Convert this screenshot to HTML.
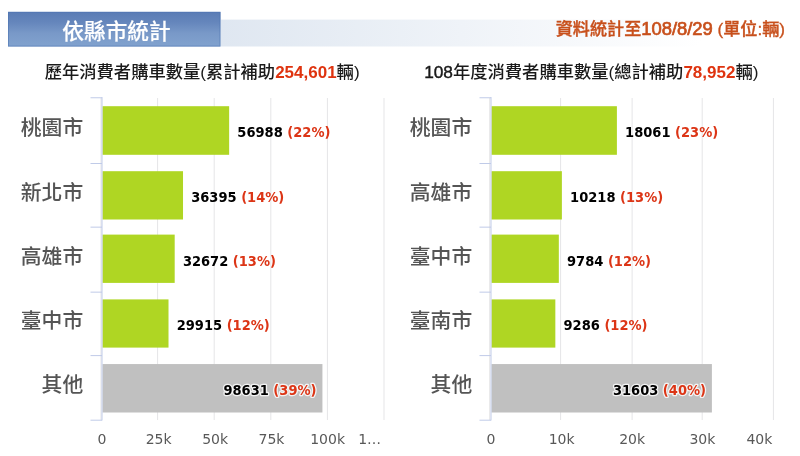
<!DOCTYPE html>
<html lang="zh-Hant">
<head>
<meta charset="utf-8">
<title>依縣市統計</title>
<style>
html,body{margin:0;padding:0;background:#fff;}
body{width:800px;height:456px;overflow:hidden;position:relative;font-family:"Liberation Sans","Noto Sans CJK TC",sans-serif;}
svg{will-change:transform;filter:blur(.35px);position:absolute;left:0;top:0;display:block;}
.dl{font-family:"DejaVu Sans Condensed","DejaVu Sans","Liberation Sans",sans-serif;font-weight:bold;font-size:14.5px;}
.ax{font-family:"DejaVu Sans","Liberation Sans",sans-serif;font-size:14px;fill:#585858;}
.rd{fill:#df330f;font-weight:bold;font-size:17px;}
.dg{stroke:#1a1a1a;stroke-width:.45px;}
.glow{paint-order:stroke;stroke:#fff;stroke-width:2.6px;stroke-linejoin:round;stroke-opacity:.8;}
.ttl{font-family:"Liberation Sans","Noto Sans CJK TC",sans-serif;font-size:17.3px;fill:#1a1a1a;font-weight:500;}
</style>
</head>
<body>
<svg width="800" height="456" viewBox="0 0 800 456">
<defs>
<linearGradient id="gb" x1="0" y1="0" x2="0" y2="1"><stop offset="0" stop-color="#5a7cb5"/><stop offset=".3" stop-color="#6586bc"/><stop offset=".62" stop-color="#7999c8"/><stop offset="1" stop-color="#81a2ce"/></linearGradient>
<linearGradient id="gl" x1="0" y1="0" x2="1" y2="0"><stop offset="0" stop-color="#dfe7f1"/><stop offset="1" stop-color="#ffffff"/></linearGradient>
</defs>
<rect x="221" y="19.6" width="480" height="26.9" fill="url(#gl)"/>
<rect x="8" y="12" width="212.5" height="34.5" fill="url(#gb)"/>
<rect x="8.5" y="12.1" width="211.5" height="34" fill="none" stroke="#4b72b0" stroke-width="1" stroke-opacity=".55"/>
<text x="116.5" y="38.8" text-anchor="middle" font-family='"Liberation Sans","Noto Sans CJK TC",sans-serif' font-size="21.7" font-weight="500" fill="#fff" stroke="#fff" stroke-width=".15">依縣市統計</text>
<text x="785" y="35.4" text-anchor="end" font-family='"Liberation Sans","Noto Sans CJK TC",sans-serif' font-size="17.1" font-weight="500" fill="#c8501c" stroke="#c8501c" stroke-width=".35">資料統計至<tspan font-weight="normal" stroke-width=".7" font-size="18.4">108/8/29</tspan> (單位:輛)</text>
<text x="202.2" y="78" text-anchor="middle" class="ttl">歷年消費者購車數量(累計補助<tspan class="rd">254,601</tspan>輛)</text>
<text x="591.3" y="78" text-anchor="middle" class="ttl"><tspan class="dg">108</tspan>年度消費者購車數量(總計補助<tspan class="rd">78,952</tspan>輛)</text>
<line x1="101.00" y1="98" x2="101.00" y2="420" stroke="#e5e5e7" stroke-width="1"/>
<line x1="157.60" y1="98" x2="157.60" y2="420" stroke="#e5e5e7" stroke-width="1"/>
<line x1="214.20" y1="98" x2="214.20" y2="420" stroke="#e5e5e7" stroke-width="1"/>
<line x1="270.80" y1="98" x2="270.80" y2="420" stroke="#e5e5e7" stroke-width="1"/>
<line x1="327.40" y1="98" x2="327.40" y2="420" stroke="#e5e5e7" stroke-width="1"/>
<line x1="384.00" y1="98" x2="384.00" y2="420" stroke="#e5e5e7" stroke-width="1"/>
<rect x="102.50" y="106.20" width="126.65" height="48.60" fill="#afd623"/>
<rect x="102.50" y="171.20" width="80.52" height="48.30" fill="#afd623"/>
<rect x="102.50" y="234.60" width="72.19" height="48.30" fill="#afd623"/>
<rect x="102.50" y="299.40" width="66.01" height="48.20" fill="#afd623"/>
<rect x="102.50" y="364.05" width="219.93" height="48.45" fill="#c0c0c0"/>
<line x1="102.00" y1="97" x2="102.00" y2="420.5" stroke="#c0cbe8" stroke-width="1"/>
<line x1="90.50" y1="97.75" x2="102.00" y2="97.75" stroke="#c0cbe8" stroke-width="1"/>
<line x1="90.50" y1="163.50" x2="102.00" y2="163.50" stroke="#c0cbe8" stroke-width="1"/>
<line x1="90.50" y1="227.15" x2="102.00" y2="227.15" stroke="#c0cbe8" stroke-width="1"/>
<line x1="90.50" y1="292.15" x2="102.00" y2="292.15" stroke="#c0cbe8" stroke-width="1"/>
<line x1="90.50" y1="355.60" x2="102.00" y2="355.60" stroke="#c0cbe8" stroke-width="1"/>
<line x1="90.50" y1="420.20" x2="102.00" y2="420.20" stroke="#c0cbe8" stroke-width="1"/>
<text x="83.2" y="135.12" text-anchor="end" font-family='"Liberation Sans","Noto Sans CJK TC",sans-serif' font-size="20.8" font-weight="500" fill="#555">桃園市</text>
<text x="83.2" y="199.82" text-anchor="end" font-family='"Liberation Sans","Noto Sans CJK TC",sans-serif' font-size="20.8" font-weight="500" fill="#555">新北市</text>
<text x="83.2" y="264.15" text-anchor="end" font-family='"Liberation Sans","Noto Sans CJK TC",sans-serif' font-size="20.8" font-weight="500" fill="#555">高雄市</text>
<text x="83.2" y="328.38" text-anchor="end" font-family='"Liberation Sans","Noto Sans CJK TC",sans-serif' font-size="20.8" font-weight="500" fill="#555">臺中市</text>
<text x="83.2" y="392.40" text-anchor="end" font-family='"Liberation Sans","Noto Sans CJK TC",sans-serif' font-size="20.8" font-weight="500" fill="#555">其他</text>
<text x="237.35" y="137.30" class="dl"><tspan fill="#000">56988</tspan> <tspan fill="#dc3516">(22%)</tspan></text>
<text x="191.22" y="202.15" class="dl"><tspan fill="#000">36395</tspan> <tspan fill="#dc3516">(14%)</tspan></text>
<text x="182.89" y="265.55" class="dl"><tspan fill="#000">32672</tspan> <tspan fill="#dc3516">(13%)</tspan></text>
<text x="176.71" y="330.30" class="dl"><tspan fill="#000">29915</tspan> <tspan fill="#dc3516">(12%)</tspan></text>
<text x="316.53" y="395.07" text-anchor="end" class="dl glow"><tspan fill="#000">98631</tspan> <tspan fill="#dc3516">(39%)</tspan></text>
<text x="102.00" y="444.2" text-anchor="middle" class="ax">0</text>
<text x="158.60" y="444.2" text-anchor="middle" class="ax">25k</text>
<text x="215.10" y="444.2" text-anchor="middle" class="ax">50k</text>
<text x="271.50" y="444.2" text-anchor="middle" class="ax">75k</text>
<text x="327.60" y="444.2" text-anchor="middle" class="ax">100k</text>
<text x="369.60" y="444.2" text-anchor="middle" class="ax">1…</text>
<line x1="489.70" y1="98" x2="489.70" y2="420" stroke="#e5e5e7" stroke-width="1"/>
<line x1="560.60" y1="98" x2="560.60" y2="420" stroke="#e5e5e7" stroke-width="1"/>
<line x1="632.10" y1="98" x2="632.10" y2="420" stroke="#e5e5e7" stroke-width="1"/>
<line x1="702.20" y1="98" x2="702.20" y2="420" stroke="#e5e5e7" stroke-width="1"/>
<line x1="773.40" y1="98" x2="773.40" y2="420" stroke="#e5e5e7" stroke-width="1"/>
<rect x="491.50" y="106.20" width="125.40" height="48.60" fill="#afd623"/>
<rect x="491.50" y="171.20" width="70.38" height="48.30" fill="#afd623"/>
<rect x="491.50" y="234.60" width="67.33" height="48.30" fill="#afd623"/>
<rect x="491.50" y="299.40" width="63.84" height="48.20" fill="#afd623"/>
<rect x="491.50" y="364.05" width="220.40" height="48.45" fill="#c0c0c0"/>
<line x1="491.00" y1="97" x2="491.00" y2="420.5" stroke="#c0cbe8" stroke-width="1"/>
<line x1="479.50" y1="97.75" x2="491.00" y2="97.75" stroke="#c0cbe8" stroke-width="1"/>
<line x1="479.50" y1="163.50" x2="491.00" y2="163.50" stroke="#c0cbe8" stroke-width="1"/>
<line x1="479.50" y1="227.15" x2="491.00" y2="227.15" stroke="#c0cbe8" stroke-width="1"/>
<line x1="479.50" y1="292.15" x2="491.00" y2="292.15" stroke="#c0cbe8" stroke-width="1"/>
<line x1="479.50" y1="355.60" x2="491.00" y2="355.60" stroke="#c0cbe8" stroke-width="1"/>
<line x1="479.50" y1="420.20" x2="491.00" y2="420.20" stroke="#c0cbe8" stroke-width="1"/>
<text x="472.2" y="135.12" text-anchor="end" font-family='"Liberation Sans","Noto Sans CJK TC",sans-serif' font-size="20.8" font-weight="500" fill="#555">桃園市</text>
<text x="472.2" y="199.82" text-anchor="end" font-family='"Liberation Sans","Noto Sans CJK TC",sans-serif' font-size="20.8" font-weight="500" fill="#555">高雄市</text>
<text x="472.2" y="264.15" text-anchor="end" font-family='"Liberation Sans","Noto Sans CJK TC",sans-serif' font-size="20.8" font-weight="500" fill="#555">臺中市</text>
<text x="472.2" y="328.38" text-anchor="end" font-family='"Liberation Sans","Noto Sans CJK TC",sans-serif' font-size="20.8" font-weight="500" fill="#555">臺南市</text>
<text x="472.2" y="392.40" text-anchor="end" font-family='"Liberation Sans","Noto Sans CJK TC",sans-serif' font-size="20.8" font-weight="500" fill="#555">其他</text>
<text x="625.10" y="137.30" class="dl"><tspan fill="#000">18061</tspan> <tspan fill="#dc3516">(23%)</tspan></text>
<text x="570.08" y="202.15" class="dl"><tspan fill="#000">10218</tspan> <tspan fill="#dc3516">(13%)</tspan></text>
<text x="567.03" y="265.55" class="dl"><tspan fill="#000">9784</tspan> <tspan fill="#dc3516">(12%)</tspan></text>
<text x="563.54" y="330.30" class="dl"><tspan fill="#000">9286</tspan> <tspan fill="#dc3516">(12%)</tspan></text>
<text x="706.00" y="395.07" text-anchor="end" class="dl glow"><tspan fill="#000">31603</tspan> <tspan fill="#dc3516">(40%)</tspan></text>
<text x="491.00" y="444.2" text-anchor="middle" class="ax">0</text>
<text x="561.60" y="444.2" text-anchor="middle" class="ax">10k</text>
<text x="632.10" y="444.2" text-anchor="middle" class="ax">20k</text>
<text x="702.40" y="444.2" text-anchor="middle" class="ax">30k</text>
<text x="759.40" y="444.2" text-anchor="middle" class="ax">40k</text>
</svg>
</body>
</html>
